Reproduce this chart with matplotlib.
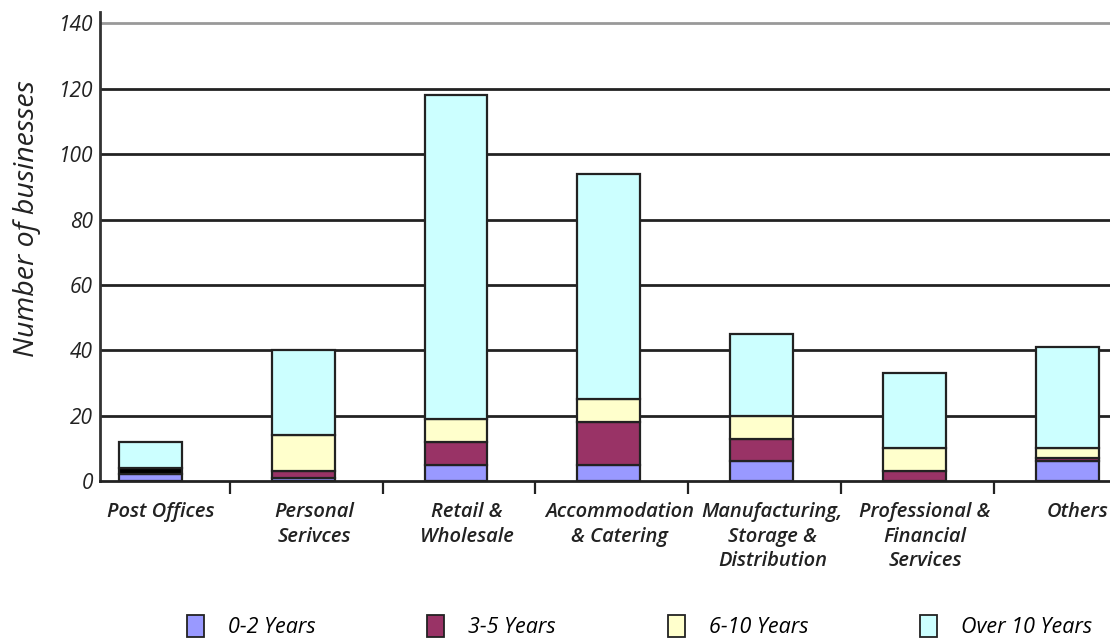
import numpy as np
import matplotlib.pyplot as plt
from matplotlib.patches import Patch

categories = ["Post Offices", "Personal\nSerivces", "Retail &\nWholesale", "Accommodation\n& Catering",
              "Manufacturing,\nStorage &\nDistribution", "Professional &\nFinancial\nServices", "Others"]
yrs_0_2 = [2, 1, 5, 5, 6, 0, 6]
yrs_3_5 = [2, 2, 7, 13, 7, 3, 1]
yrs_6_10 = [0, 11, 7, 7, 7, 7, 3]
yrs_over_10 = [8, 26, 99, 69, 25, 23, 31]
series_names = ["0-2 Years", "3-5 Years", "6-10 Years", "Over 10 Years"]
colors = ["#9999FF", "#993366", "#FFFFCC", "#CCFFFF"]

font = "Open Sans"
fig = plt.figure(figsize=(11.1, 6.39), dpi=100)
ax = fig.add_axes([100 / 1110, 1 - 481 / 639, 1 - 100 / 1110, (481 - 12) / 639])

x = np.arange(len(categories))
bottom = np.zeros(len(categories))
for i, vals in enumerate([yrs_0_2, yrs_3_5, yrs_6_10, yrs_over_10]):
    cols = [colors[i]] * len(categories)
    if i == 1:
        cols[0] = "black"  # post office band shows up black
    ax.bar(x, vals, 0.41, bottom=bottom, color=cols, edgecolor="#222222", linewidth=1.6, zorder=3)
    bottom += np.array(vals)

ax.set_xlim(-0.33, 6.28)
ax.set_ylim(0, 143.5)
ax.set_yticks(range(0, 141, 20))
for v in range(20, 121, 20):
    ax.axhline(v, color="#222222", lw=2, zorder=1)
ax.axhline(140, color="#999999", lw=2, zorder=1)

for s in ["top", "right"]:
    ax.spines[s].set_visible(False)
ax.spines["left"].set_color("#333333")
ax.spines["left"].set_linewidth(2)
ax.spines["bottom"].set_color("#222222")
ax.spines["bottom"].set_linewidth(2)

ax.set_xticks(x[:-1] + 0.52, minor=False)
ax.set_xticklabels([])
ax.tick_params(axis="x", length=9, width=1.6, color="#222222", direction="out")
ax.tick_params(axis="y", length=0, pad=5)
for t in ax.get_yticklabels():
    t.set_fontfamily(font)
    t.set_fontstyle("italic")
    t.set_fontsize(15)
    t.set_fontweight("medium")
    t.set_color("#222222")

for xi, lab in zip(x, categories):
    ax.text(xi + 0.07, -6.5, lab, ha="center", va="top", fontsize=14.5, family=font, style="italic",
            fontweight="semibold", color="#222222", linespacing=1.3)

ax.set_ylabel("Number of businesses", fontsize=20.5, family=font, style="italic", color="#222222")
ax.yaxis.set_label_coords(-0.058, 0.56)

handles = [Patch(facecolor=c, edgecolor="#222222", linewidth=1.3) for c in colors]
fig.legend(handles, series_names, loc="center", bbox_to_anchor=(0.576, 0.02), ncol=4, frameon=False,
           prop={"family": font, "style": "italic", "size": 15.5, "weight": "medium"},
           handlelength=0.8, handleheight=1.2, columnspacing=5.2, handletextpad=1.1)

fig.savefig("out.png", dpi=100)
